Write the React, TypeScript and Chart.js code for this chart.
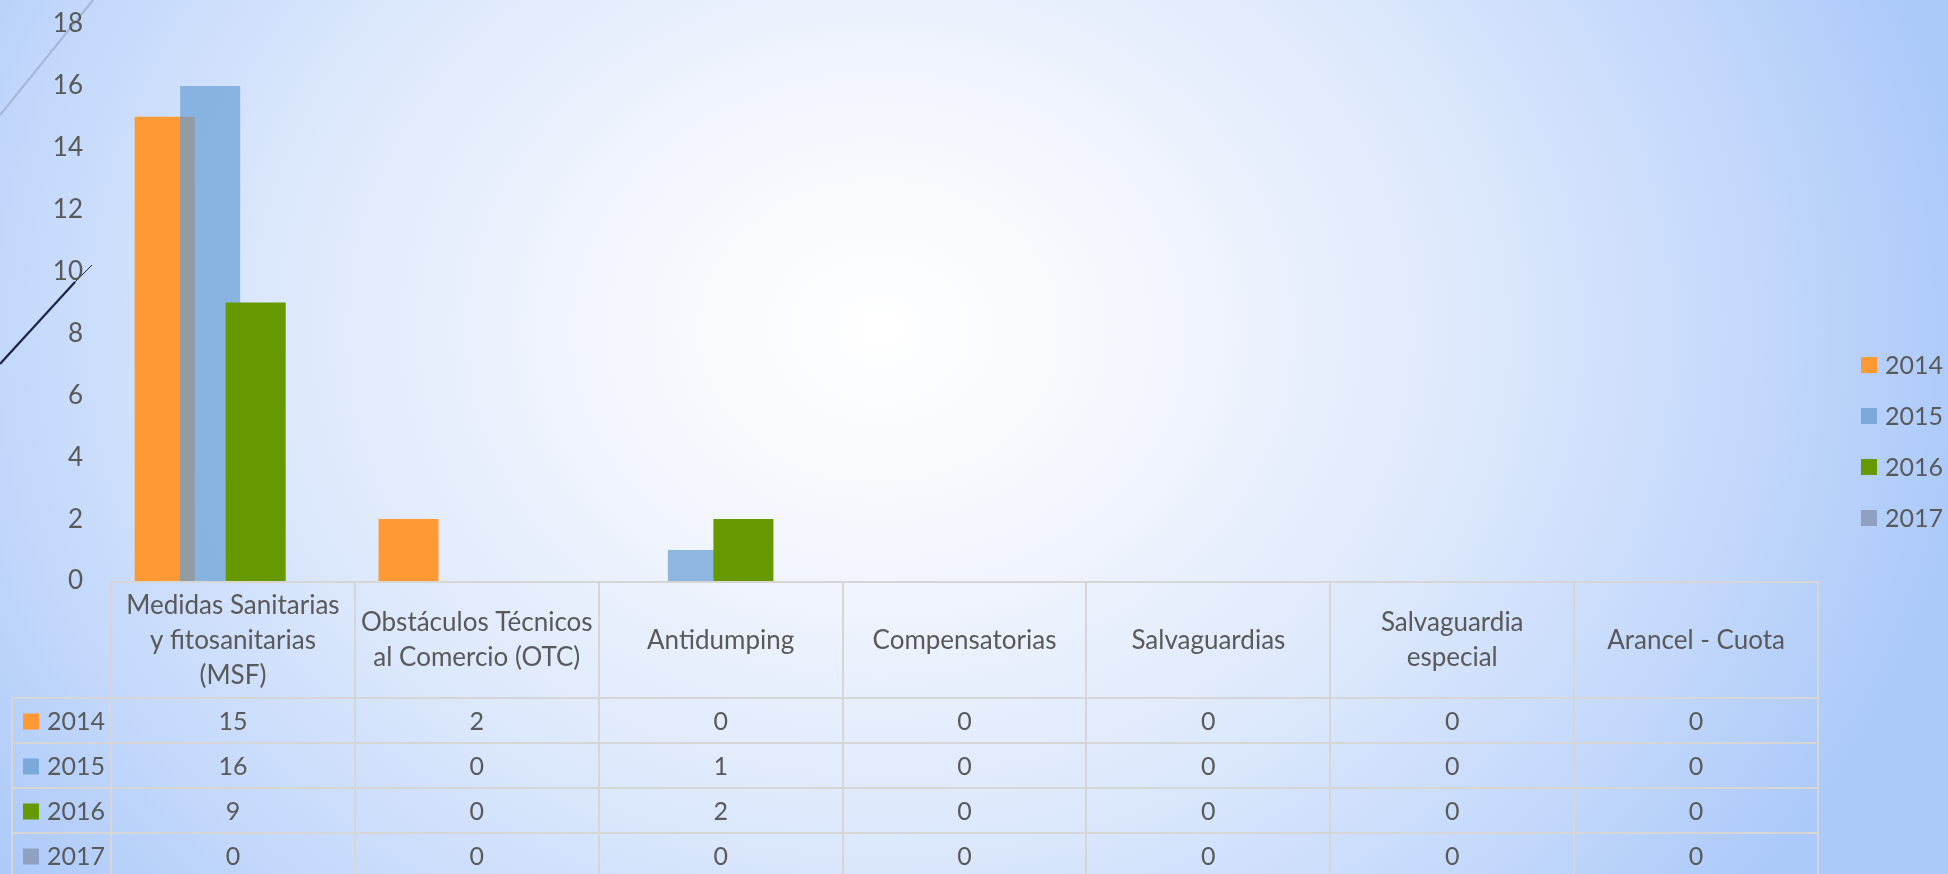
import React, { useEffect, useRef } from "react";
import { Chart, registerables } from "chart.js";

Chart.register(...registerables);

// ---------- data ----------
const categoryLines: string[][] = [
  ["Medidas Sanitarias", "y fitosanitarias", "(MSF)"],
  ["Obstáculos Técnicos", "al Comercio (OTC)"],
  ["Antidumping"],
  ["Compensatorias"],
  ["Salvaguardias"],
  ["Salvaguardia", "especial"],
  ["Arancel - Cuota"],
];
const categories = categoryLines.map((l) => l.join(" "));
const seriesNames = ["2014", "2015", "2016", "2017"];
const values2014 = [15, 2, 0, 0, 0, 0, 0];
const values2015 = [16, 0, 1, 0, 0, 0, 0];
const values2016 = [9, 0, 2, 0, 0, 0, 0];
const values2017 = [0, 0, 0, 0, 0, 0, 0];
const seriesValues = [values2014, values2015, values2016, values2017];
const yMax = 18;
const yStep = 2;

// ---------- styles ----------
const barColors = ["#FF9933", "rgba(123,170,219,0.85)", "#669900", "#8FA0C0"];
const keyColors = ["#FF9933", "#7BAAD9", "#669900", "#8FA0C0"];
const overlapColor = "#939BA3";
const textColor = "#595959";
const gridColor = "#D6D6D6";
const FONT = "Lato";
const FS = 26;
const FS_SMALL = 25;

const W = 1948;
const H = 874;

const tablePlugin = {
  id: "tableAndDecor",
  beforeDraw(chart: any) {
    const ctx = chart.ctx;
    ctx.save();
    // decorative slide lines
    ctx.strokeStyle = "rgba(160,178,212,0.9)";
    ctx.lineWidth = 2;
    ctx.beginPath();
    ctx.moveTo(0, 115);
    ctx.lineTo(93, 0);
    ctx.stroke();
    ctx.strokeStyle = "#1E2250";
    ctx.lineWidth = 2.2;
    ctx.beginPath();
    ctx.moveTo(0, 364);
    ctx.lineTo(75, 282);
    ctx.stroke();
    ctx.lineWidth = 1;
    ctx.beginPath();
    ctx.moveTo(75, 282);
    ctx.lineTo(92, 265);
    ctx.stroke();
    ctx.restore();
  },
  beforeDatasetsDraw(chart: any) {
    const ctx = chart.ctx;
    const n = chart.data.datasets.length;
    for (let i = 0; i < n; i++) {
      const meta = chart.getDatasetMeta(i);
      if (meta.hidden) continue;
      meta.controller.draw();
      if (i === 1) {
        const m0 = chart.getDatasetMeta(0).data;
        const m1 = meta.data;
        ctx.save();
        ctx.fillStyle = overlapColor;
        for (let j = 0; j < m1.length; j++) {
          const a = m0[j].getProps(["x", "y", "base", "width"], true);
          const b = m1[j].getProps(["x", "y", "base", "width"], true);
          const l = Math.max(a.x - a.width / 2, b.x - b.width / 2);
          const r = Math.min(a.x + a.width / 2, b.x + b.width / 2);
          const t = Math.max(Math.min(a.y, a.base), Math.min(b.y, b.base));
          const bt = Math.min(Math.max(a.y, a.base), Math.max(b.y, b.base));
          if (r - l > 0 && bt - t > 0) ctx.fillRect(l, t, r - l, bt - t);
        }
        ctx.restore();
      }
    }
    return false;
  },
  afterDraw(chart: any) {
    const ctx = chart.ctx;
    const xs = chart.scales.x;
    const area = chart.chartArea;
    const nCat = categories.length;
    const step = xs.getPixelForValue(1) - xs.getPixelForValue(0);
    const left = xs.getPixelForValue(0) - step / 2;
    const right = left + step * nCat;
    const headerTop = area.bottom;
    const headerBottom = headerTop + 117;
    const rowH = 45;
    const keyLeft = 12;
    const bottom = H + 5;

    ctx.save();
    // grid
    ctx.strokeStyle = gridColor;
    ctx.lineWidth = 2;
    ctx.beginPath();
    ctx.moveTo(left, headerTop + 1);
    ctx.lineTo(right, headerTop + 1);
    for (let k = 0; k <= nCat; k++) {
      const x = Math.round(left + k * step);
      ctx.moveTo(x, headerTop);
      ctx.lineTo(x, bottom);
    }
    for (let r = 0; r <= seriesNames.length; r++) {
      const y = headerBottom + r * rowH;
      ctx.moveTo(keyLeft, y);
      ctx.lineTo(right, y);
    }
    ctx.moveTo(keyLeft, headerBottom);
    ctx.lineTo(keyLeft, bottom);
    ctx.stroke();

    // header text
    ctx.fillStyle = textColor;
    ctx.font = `${FS}px ${FONT}`;
    ctx.textAlign = "center";
    ctx.textBaseline = "middle";
    const lineH = 35;
    const midH = (headerTop + headerBottom) / 2 + 1;
    categoryLines.forEach((lines, i) => {
      const cx = xs.getPixelForValue(i);
      const y0 = midH - ((lines.length - 1) * lineH) / 2;
      lines.forEach((ln, k) => ctx.fillText(ln, cx, y0 + k * lineH));
    });

    // rows
    ctx.font = `${FS_SMALL}px ${FONT}`;
    seriesNames.forEach((name, r) => {
      const cy = headerBottom + r * rowH + rowH / 2 + 1;
      ctx.fillStyle = keyColors[r];
      ctx.fillRect(keyLeft + 11, cy - 8, 16, 16);
      ctx.fillStyle = textColor;
      ctx.textAlign = "left";
      ctx.fillText(name, keyLeft + 35, cy);
      ctx.textAlign = "center";
      seriesValues[r].forEach((v, i) => {
        ctx.fillText(String(v), xs.getPixelForValue(i), cy);
      });
    });

    // legend
    const legX = 1861;
    const legY0 = 365;
    const legStep = 51;
    seriesNames.forEach((name, r) => {
      const cy = legY0 + r * legStep;
      ctx.fillStyle = keyColors[r];
      ctx.fillRect(legX, cy - 8, 16, 16);
      ctx.fillStyle = textColor;
      ctx.textAlign = "left";
      ctx.fillText(name, legX + 24, cy + 1);
    });
    ctx.restore();
  },
};

export default function App() {
  const ref = useRef<HTMLCanvasElement | null>(null);

  useEffect(() => {
    document.body.style.margin = "0";
    let chart: Chart | null = null;
    let cancelled = false;
    const make = () => {
      if (cancelled || !ref.current) return;
      chart = new Chart(ref.current, {
        type: "bar",
        data: {
          labels: categories,
          datasets: seriesNames.map((name, i) => ({
            label: name,
            data: seriesValues[i],
            backgroundColor: barColors[i],
            borderWidth: 0,
            categoryPercentage: 0.7463,
            barPercentage: 1.3187,
          })),
        },
        options: {
          responsive: false,
          animation: false,
          layout: { padding: { left: 0, top: 24, right: W - 1818, bottom: H - 581 } },
          plugins: { legend: { display: false }, tooltip: { enabled: false } },
          scales: {
            x: { display: false },
            y: {
              min: 0,
              max: yMax,
              border: { display: false },
              grid: { display: false, drawTicks: false },
              ticks: {
                stepSize: yStep,
                padding: 28,
                color: textColor,
                font: { family: FONT, size: FS },
              },
              afterFit(scale: any) {
                scale.width = 111;
                scale.paddingTop = 0;
                scale.paddingBottom = 0;
              },
            },
          },
        },
        plugins: [tablePlugin],
      } as any);
    };
    const fontsApi = (document as any).fonts;
    if (fontsApi && fontsApi.load) {
      fontsApi.load(`${FS}px ${FONT}`).then(make, make);
    } else {
      make();
    }
    return () => {
      cancelled = true;
      if (chart) chart.destroy();
    };
  }, []);

  return (
    <div
      style={{
        width: W,
        height: H,
        position: "relative",
        overflow: "hidden",
        background:
          "radial-gradient(1100px 920px at 880px 330px, #ffffff 0%, #f3f6fd 25%, #dce8fc 55%, #c3d8fb 80%, #abc9f9 100%)",
      }}
    >
      <canvas ref={ref} width={W} height={H} style={{ display: "block" }} />
    </div>
  );
}
